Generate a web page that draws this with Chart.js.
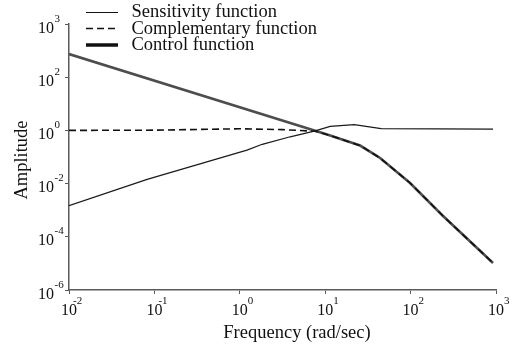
<!DOCTYPE html>
<html>
<head>
<meta charset="utf-8">
<script src="https://cdn.jsdelivr.net/npm/chart.js@4.4.1/dist/chart.umd.min.js"></script>
<style>
html,body{margin:0;padding:0;background:#fff;}
#c{display:block;}
</style>
</head>
<body>
<canvas id="c" width="515" height="345"></canvas>
<script>
// Amplitudengang (log-log): Sensitivität, komplementäre Sensitivität, Regler
var SERIES_NAMES = ["Sensitivity function", "Complementary function", "Control function"];
var X_TITLE = "Frequency (rad/sec)";
var Y_TITLE = "Amplitude";

// Stützstellen (rad/sec bzw. Amplitude)
var sensFreq = [0.01, 0.0822, 1.213, 1.832, 3.89, 7.64, 11.43, 21.9, 45.2, 922.6];
var sensAmp  = [0.00148, 0.0145, 0.182, 0.30, 0.575, 0.955, 1.41, 1.66, 1.17, 1.12];

var compFreq = [0.01, 0.1, 1, 3.16, 7.64, 11.43, 25.64, 43.95, 98.6, 239.9, 922.6];
var compAmp  = [1, 1.02, 1.15, 1.07, 0.93, 0.646, 0.270, 0.0916, 0.01054, 0.000605, 0.00001035];

var ctrlFreq = [0.01, 7.64, 11.43, 25.64, 43.95, 98.6, 239.9, 922.6];
var ctrlAmp  = [741, 0.97, 0.646, 0.270, 0.0916, 0.01054, 0.000605, 0.00001035];

// Achsenticks (Exponenten) + Beschriftung wie im Bild (oberster Tick heißt 10^3)
var xTickExp = [-2, -1, 0, 1, 2, 3];
var xTickLabels = ["-2", "-1", "0", "1", "2", "3"];
var yTickExp = [-6, -4, -2, 0, 2, 4];
var yTickLabels = ["-6", "-4", "-2", "0", "2", "3"];

var SERIF = "'Liberation Serif','Times New Roman',serif";
var AXIS = "#5a5a5a", INK = "#111";

function pts(freq, amp){
  return freq.map(function(f, i){ return { x: Math.log10(f), y: Math.log10(amp[i]) }; });
}

// Tickbeschriftung 10^n, Achsentitel, Legende
var decoPlugin = {
  id: "deco",
  afterDraw: function(chart){
    var ctx = chart.ctx, xs = chart.scales.x, ys = chart.scales.y, ca = chart.chartArea;
    ctx.save();
    ctx.fillStyle = INK;
    ctx.textBaseline = "alphabetic";

    xTickExp.forEach(function(v, i){
      var px = xs.getPixelForValue(v), ex = xTickLabels[i];
      ctx.font = "16px " + SERIF;
      var w = ctx.measureText("10").width;
      ctx.textAlign = "center";
      ctx.fillText("10", px, ca.bottom + 25);
      ctx.font = "11px " + SERIF;
      ctx.textAlign = "left";
      ctx.fillText(ex, px + w/2 - (ex.charAt(0) === "-" ? 4 : 0), ca.bottom + 14);
    });

    yTickExp.forEach(function(v, i){
      var py = ys.getPixelForValue(v);
      ctx.font = "16px " + SERIF;
      ctx.textAlign = "right";
      ctx.fillText("10", ca.left - 15, py + 8.5);
      ctx.font = "11px " + SERIF;
      ctx.textAlign = "left";
      ctx.fillText(yTickLabels[i], ca.left - 14.5, py - 2.5);
    });

    ctx.font = "18.5px " + SERIF;
    ctx.textAlign = "center";
    ctx.fillText(X_TITLE, 297, 338);

    ctx.save();
    ctx.translate(22, 160);
    ctx.rotate(-Math.PI/2);
    ctx.textBaseline = "middle";
    ctx.fillText(Y_TITLE, 0, 0);
    ctx.restore();

    // Legende oben
    var rows = [12.5, 28.5, 45], base = [17, 33.5, 50];
    chart.data.datasets.forEach(function(ds, i){
      ctx.beginPath();
      ctx.strokeStyle = INK;
      ctx.lineWidth = ds.legendWidth;
      ctx.setLineDash(ds.borderDash || []);
      ctx.moveTo(86, rows[i]);
      ctx.lineTo(118, rows[i]);
      ctx.stroke();
      ctx.setLineDash([]);
      ctx.font = "18.5px " + SERIF;
      ctx.textAlign = "left";
      ctx.fillText(ds.label, 131.5, base[i]);
    });
    ctx.restore();
  }
};

var chart = new Chart(document.getElementById("c"), {
  type: "line",
  data: {
    datasets: [
      { label: SERIES_NAMES[0], data: pts(sensFreq, sensAmp), borderColor: "#1a1a1a", borderWidth: 1.2, legendWidth: 1 },
      { label: SERIES_NAMES[1], data: pts(compFreq, compAmp), borderColor: "#111", borderWidth: 1.6, borderDash: [7, 4], legendWidth: 1.6 },
      { label: SERIES_NAMES[2], data: pts(ctrlFreq, ctrlAmp), borderColor: "#4d4d4d", borderWidth: 2.6, legendWidth: 3.5 }
    ]
  },
  options: {
    responsive: false,
    animation: false,
    parsing: false,
    layout: { padding: { left: 69, right: 19, top: 24, bottom: 55 } },
    elements: { point: { radius: 0 }, line: { tension: 0, fill: false } },
    plugins: { legend: { display: false }, tooltip: { enabled: false } },
    scales: {
      x: {
        type: "linear", min: -2, max: 3,
        afterFit: function(s){ s.height = 0; },
        afterBuildTicks: function(s){ s.ticks = xTickExp.map(function(v){ return { value: v }; }); },
        ticks: { display: false },
        grid: { drawOnChartArea: false, drawTicks: true, tickLength: 4, color: AXIS, lineWidth: 1 },
        border: { display: true, color: AXIS, width: 1.5 }
      },
      y: {
        type: "linear", min: -6, max: 4,
        afterFit: function(s){ s.width = 0; },
        afterBuildTicks: function(s){ s.ticks = yTickExp.map(function(v){ return { value: v }; }); },
        ticks: { display: false },
        grid: { drawOnChartArea: false, drawTicks: true, tickLength: 4, color: AXIS, lineWidth: 1 },
        border: { display: true, color: AXIS, width: 1.5 }
      }
    }
  },
  plugins: [decoPlugin]
});
</script>
</body>
</html>
